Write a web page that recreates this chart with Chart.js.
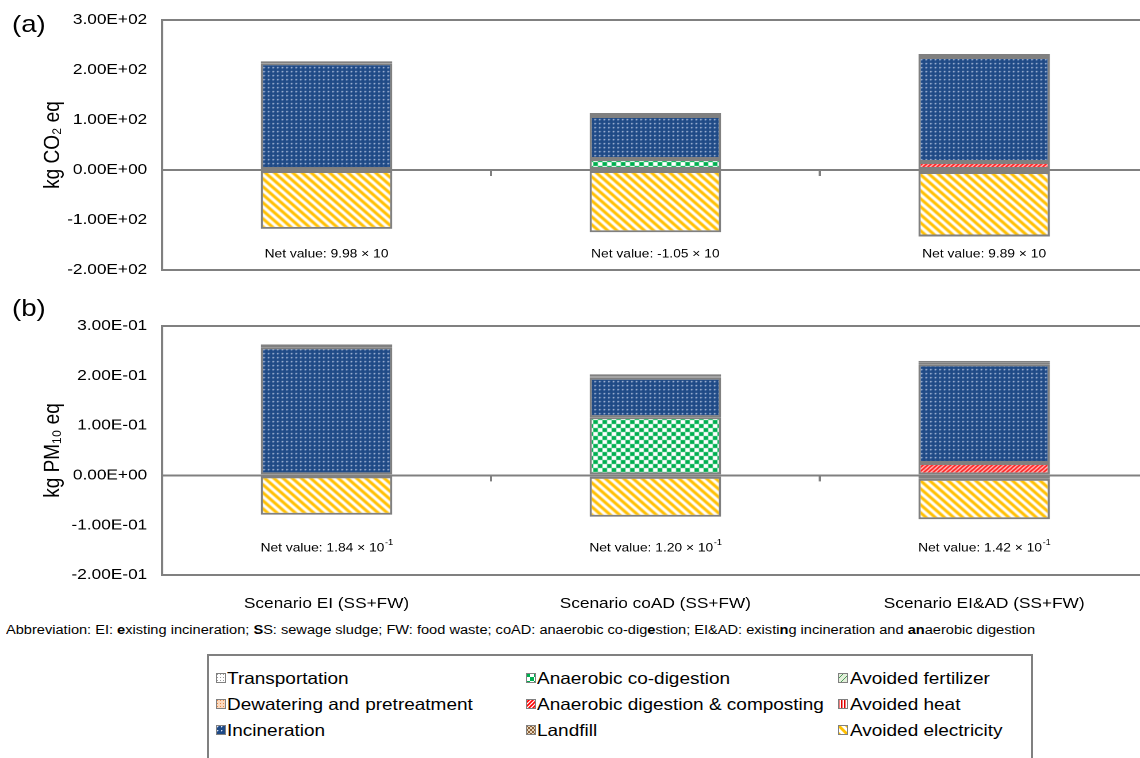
<!DOCTYPE html>
<html><head><meta charset="utf-8">
<script src="https://cdn.jsdelivr.net/npm/chart.js@4.4.0/dist/chart.umd.min.js"></script>
<style>
html,body{margin:0;padding:0;background:#fff;overflow:hidden;width:1140px;height:758px;}
body{position:relative;font-family:"Liberation Sans",Arial,sans-serif;color:#000;}
#ca{position:absolute;left:0;top:-2px;}
#cb{position:absolute;left:0;top:280px;}
.st{position:absolute;white-space:nowrap;transform-origin:0 50%;transform:scaleX(1.15);}
.panel{font-size:24px;line-height:28px;}
#abbr{position:absolute;left:6px;top:623px;font-size:12px;line-height:14px;white-space:nowrap;transform-origin:0 0;display:inline-block;}
#legend{position:absolute;left:207px;top:654px;width:826px;height:130px;border:2px solid #808080;box-sizing:border-box;}
.li{font-size:16.5px;line-height:20px;}
.sw{position:absolute;}
</style></head>
<body>
<canvas id="ca" width="1002" height="294" style="width:1152px;height:294px"></canvas>
<canvas id="cb" width="1002" height="335" style="width:1152px;height:335px"></canvas>
<div class="st panel" style="left:12px;top:10px">(a)</div>
<div class="st panel" style="left:12px;top:294px">(b)</div>
<div id="abbr">Abbreviation: EI: <b>e</b>xisting incineration; <b>S</b>S: sewage sludge; FW: food waste; coAD: anaerobic co-dig<b>e</b>stion; EI&amp;AD: existi<b>n</b>g incineration and <b>an</b>aerobic digestion</div>
<div id="legend"></div>
<script>
// ---------- data ----------
const categories = ["Scenario EI (SS+FW)", "Scenario coAD (SS+FW)", "Scenario EI&AD (SS+FW)"];
const yTicksA = [300, 200, 100, 0, -100, -200];
const yTicksB = [0.3, 0.2, 0.1, 0, -0.1, -0.2];

// (a) kg CO2 eq
const adCoDigA   = [null, 22, null];
const adCompA    = [null, null, 16];
const incinA     = [213.5, 86, 210];
const landfillA  = [null, null, null];
const dewaterA   = [null, 3, 3];
const transportA = [4, 3, 3];
const avHeatA    = [null, -2, -4];
const avFertA    = [null, null, null];
const avElecA    = [-117.7, -122.5, -129.1];
const netA       = [99.8, -10.5, 98.9];

// (b) kg PM10 eq
const adCoDigB   = [null, 0.117, null];
const adCompB    = [null, null, 0.025];
const incinB     = [0.257, 0.079, 0.198];
const landfillB  = [null, null, null];
const dewaterB   = [null, 0.003, 0.003];
const transportB = [0.006, 0.004, 0.004];
const avHeatB    = [null, -0.003, -0.007];
const avFertB    = [null, null, null];
const avElecB    = [-0.079, -0.080, -0.081];
const netB       = [0.184, 0.120, 0.142];

const legendOrder = ["Transportation", "Anaerobic co-digestion", "Avoided fertilizer",
  "Dewatering and pretreatment", "Anaerobic digestion & composting", "Avoided heat",
  "Incineration", "Landfill", "Avoided electricity"];

// ---------- patterns ----------
function tile(w, h, draw) {
  const c = document.createElement('canvas'); c.width = w; c.height = h;
  const g = c.getContext('2d'); draw(g, w, h); return c;
}
const tiles = {
  "Incineration": tile(4, 4, (g) => {
    g.fillStyle = '#1f4a86'; g.fillRect(0, 0, 4, 4);
    g.fillStyle = '#5d7cb0'; g.fillRect(2, 1, 1, 1); g.fillRect(1, 2, 1, 1);
    g.fillStyle = '#dfe7f5'; g.fillRect(1, 1, 1, 1);
  }),
  "Avoided electricity": tile(8, 8, (g) => {
    g.fillStyle = '#fff'; g.fillRect(0, 0, 8, 8);
    g.strokeStyle = '#ffc000'; g.lineWidth = 2.8;
    for (let k = -1; k <= 1; k++) { g.beginPath(); g.moveTo(k * 8 - 1, -1); g.lineTo(k * 8 + 9, 9); g.stroke(); }
  }),
  "Anaerobic co-digestion": tile(8, 8, (g) => {
    g.fillStyle = '#fff'; g.fillRect(0, 0, 8, 8);
    g.fillStyle = '#00b050'; g.fillRect(0, 0, 4, 4); g.fillRect(4, 4, 4, 4);
  }),
  "Anaerobic digestion & composting": tile(4, 4, (g) => {
    g.fillStyle = '#fff'; g.fillRect(0, 0, 4, 4);
    g.strokeStyle = '#ff0000'; g.lineWidth = 1.6;
    for (let k = -1; k <= 1; k++) { g.beginPath(); g.moveTo(k * 4 - 1, 5); g.lineTo(k * 4 + 5, -1); g.stroke(); }
  }),
  "Avoided heat": tile(3, 3, (g) => {
    g.fillStyle = '#fff'; g.fillRect(0, 0, 3, 3);
    g.fillStyle = '#e00000'; g.fillRect(0, 0, 1.5, 3);
  }),
  "Avoided fertilizer": tile(6, 6, (g) => {
    g.fillStyle = '#e2efda'; g.fillRect(0, 0, 6, 6);
    g.strokeStyle = '#4e9a5a'; g.lineWidth = 1;
    for (let k = -1; k <= 1; k++) { g.beginPath(); g.moveTo(k * 6 - 1, 7); g.lineTo(k * 6 + 7, -1); g.stroke(); }
  }),
  "Landfill": tile(4, 4, (g) => {
    g.fillStyle = '#e6d5bd'; g.fillRect(0, 0, 4, 4);
    g.fillStyle = '#8c6239'; g.fillRect(0, 0, 2, 2); g.fillRect(2, 2, 2, 2);
  }),
  "Dewatering and pretreatment": tile(3, 3, (g) => {
    g.fillStyle = '#fcd9bd'; g.fillRect(0, 0, 3, 3);
    g.fillStyle = '#e8894a'; g.fillRect(1, 1, 1, 1);
  }),
  "Transportation": tile(3, 3, (g) => {
    g.fillStyle = '#ffffff'; g.fillRect(0, 0, 3, 3);
    g.fillStyle = '#9a9a9a'; g.fillRect(1, 1, 1, 1);
  })
};
function patternFor(ctx, name) { return ctx.createPattern(tiles[name], 'repeat'); }

// ---------- helpers ----------
const FONT = '"Liberation Sans", Arial, sans-serif';
function fmtE(v) {
  if (Math.abs(v) < 1e-12) v = 0;
  const parts = v.toExponential(2).split('e');
  const e = parseInt(parts[1], 10);
  return parts[0] + 'E' + (e < 0 ? '-' : '+') + String(Math.abs(e)).padStart(2, '0');
}

const netPlugin = {
  id: 'netLabels',
  afterDatasetsDraw(chart, args, opts) {
    const ctx = chart.ctx, xs = chart.scales.x;
    ctx.save();
    ctx.fillStyle = '#000'; ctx.textBaseline = 'middle'; ctx.textAlign = 'left';
    opts.values.forEach((v, i) => {
      const p = v.toExponential(2).split('e');
      const e = parseInt(p[1], 10);
      const main = 'Net value: ' + p[0] + ' \u00d7 10';
      const sup = e === 1 ? '' : String(e);
      ctx.font = '12px ' + FONT;
      const w1 = ctx.measureText(main).width;
      ctx.font = '8px ' + FONT;
      const w2 = sup ? ctx.measureText(sup).width : 0;
      const x0 = xs.getPixelForValue(i) - (w1 + w2) / 2;
      ctx.font = '12px ' + FONT;
      ctx.fillText(main, x0, opts.y);
      if (sup) { ctx.font = '8px ' + FONT; ctx.fillText(sup, x0 + w1 + 0.5, opts.y - 5); }
    });
    ctx.restore();
  }
};
const zeroTicks = {
  id: 'zeroTicks',
  beforeDatasetsDraw(chart) {
    const ctx = chart.ctx, xs = chart.scales.x, ys = chart.scales.y;
    const y0 = ys.getPixelForValue(0);
    ctx.save(); ctx.strokeStyle = '#808080'; ctx.lineWidth = 2;
    for (let i = 0; i < categories.length - 1; i++) {
      const xb = (xs.getPixelForValue(i) + xs.getPixelForValue(i + 1)) / 2;
      ctx.beginPath(); ctx.moveTo(xb, y0); ctx.lineTo(xb, y0 + 6); ctx.stroke();
    }
    ctx.restore();
  }
};

function buildChart(id, s, ticks, title, showX, net, netY, padTop, xHeight) {
  const canvas = document.getElementById(id);
  const ctx = canvas.getContext('2d');
  const names = ["Anaerobic co-digestion", "Anaerobic digestion & composting", "Incineration", "Landfill",
    "Dewatering and pretreatment", "Transportation", "Avoided heat", "Avoided fertilizer", "Avoided electricity"];
  const datasets = names.map((n, k) => ({
    label: n, data: s[k], backgroundColor: patternFor(ctx, n),
    borderColor: '#808080', borderWidth: 2, borderSkipped: false,
    barPercentage: 0.4, categoryPercentage: 1.0, stack: 's'
  }));
  const ymax = Math.max(...ticks), ymin = Math.min(...ticks);
  const isLine = v => [ymax, 0, ymin].some(t => Math.abs(t - v) < Math.abs(ymax) * 1e-6);
  return new Chart(ctx, {
    type: 'bar',
    data: { labels: categories, datasets },
    plugins: [netPlugin, zeroTicks],
    options: {
      responsive: false, animation: false, devicePixelRatio: 2,
      layout: { padding: { left: 0, right: 3, top: padTop, bottom: 0 } },
      plugins: { legend: { display: false }, tooltip: { enabled: false },
        netLabels: { values: net, y: netY } },
      scales: {
        x: {
          display: true, stacked: true, offset: true,
          grid: { display: false }, border: { display: false },
          ticks: { display: showX, color: '#000', font: { size: 15, family: FONT }, padding: 12, maxRotation: 0 },
          afterFit: (sc) => { sc.height = xHeight; }
        },
        y: {
          stacked: true, min: ymin, max: ymax,
          afterBuildTicks: (sc) => { sc.ticks = ticks.slice().sort((a, b) => a - b).map(v => ({ value: v })); },
          afterFit: (sc) => { sc.width = 141; },
          grid: { drawTicks: false, lineWidth: 2,
            color: (c) => (c.tick && isLine(c.tick.value)) ? '#808080' : 'rgba(0,0,0,0)' },
          border: { display: true, color: '#808080', width: 2 },
          ticks: { color: '#000', font: { size: 15, family: FONT }, padding: 13, callback: (v) => fmtE(v) },
          title: { display: true, text: title, color: '#000', font: { size: 19, family: FONT }, padding: { top: 35, bottom: 0 } }
        }
      }
    }
  });
}

// canvas A sits 2px above the page top, so its pixel rows are page rows + 2
buildChart('ca', [adCoDigA, adCompA, incinA, landfillA, dewaterA, transportA, avHeatA, avFertA, avElecA],
  yTicksA, 'kg CO\u2082 eq', false, netA, 256, 22, 10);
buildChart('cb', [adCoDigB, adCompB, incinB, landfillB, dewaterB, transportB, avHeatB, avFertB, avElecB],
  yTicksB, 'kg PM\u2081\u2080 eq', true, netB, 268, 46, 40);

// ---------- legend ----------
const legend = document.getElementById('legend');
const L0 = 207, T0 = 654;
const colIconX = [216, 526, 838], colTextX = [227, 537, 850], rowY = [678, 704, 730];
legendOrder.forEach((n, k) => {
  const r = Math.floor(k / 3), c = k % 3;
  const sw = document.createElement('canvas'); sw.width = 10; sw.height = 10; sw.className = 'sw';
  sw.style.left = (colIconX[c] - L0 - 2) + 'px'; sw.style.top = (rowY[r] - T0 - 2 - 5) + 'px';
  const g = sw.getContext('2d');
  g.fillStyle = g.createPattern(tiles[n], 'repeat'); g.fillRect(0, 0, 10, 10);
  g.strokeStyle = '#808080'; g.lineWidth = 1; g.strokeRect(0.5, 0.5, 9, 9);
  legend.appendChild(sw);
  const t = document.createElement('div'); t.className = 'st li'; t.textContent = n;
  t.style.left = (colTextX[c] - L0 - 2) + 'px'; t.style.top = (rowY[r] - T0 - 2 - 10) + 'px';
  legend.appendChild(t);
});

// fit abbreviation line to its width in the figure
const ab = document.getElementById('abbr');
const w = ab.getBoundingClientRect().width;
ab.style.transform = 'scaleX(' + (1029 / w) + ')';
</script>
</body></html>
